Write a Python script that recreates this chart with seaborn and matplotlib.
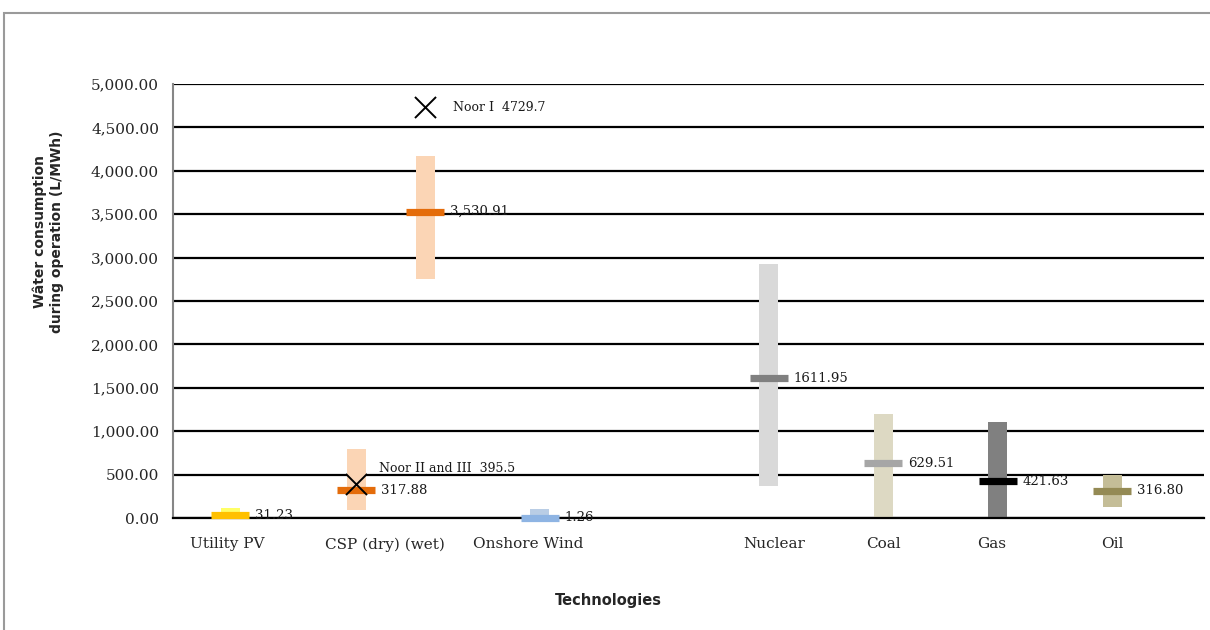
import matplotlib
matplotlib.use("Agg")
import matplotlib.pyplot as plt
import matplotlib.patches as mpatches
import seaborn as sns
import pandas as pd

# Data
technologies = ["Utility PV", "CSP (dry)", "CSP (wet)", "Onshore Wind",
                "Nuclear", "Coal", "Gas", "Oil"]
range_low = [0, 89, 2750, 0, 372, 0, 0, 123]
range_high = [119, 791, 4171, 104, 2931, 1198, 1106, 495]
median = [31.23, 317.88, 3530.91, 1.26, 1611.95, 629.51, 421.63, 316.80]
median_labels = ["31.23", "317.88", "3,530.91", "1.26", "1611.95", "629.51", "421.63", "316.80"]
tick_labels = ["Utility PV", "CSP (dry) (wet)", "Onshore Wind", "Nuclear", "Coal", "Gas", "Oil"]

noor_names = ["Noor I", "Noor II and III"]
noor_tech = ["CSP (wet)", "CSP (dry)"]
noor_values = [4729.7, 395.5]

range_colors = ["#FFFF66", "#FBD5B5", "#FBD5B5", "#B9CDE5", "#D9D9D9", "#DDD9C3", "#808080", "#C4BD97"]
median_colors = ["#FFC000", "#E46C0A", "#E46C0A", "#8EB4E3", "#808080", "#A6A6A6", "#000000", "#948A54"]

# layout: x slot of each column and of each tick label
x_pos = [0.5, 1.6, 2.2, 3.2, 5.2, 6.2, 7.2, 8.2]
tick_pos = [0.47, 1.85, 3.1, 5.25, 6.2, 7.15, 8.2]

df = pd.DataFrame({"tech": technologies, "x": x_pos, "low": range_low,
                   "high": range_high, "median": median})
noor = pd.DataFrame({"name": noor_names, "value": noor_values,
                     "x": [x_pos[technologies.index(t)] for t in noor_tech]})

sns.set_theme(style="white")
serif = ["DejaVu Serif"]

fig = plt.figure(figsize=(12.1, 6.3), dpi=100)
ax = fig.add_axes([173 / 1210, 112 / 630, 1031 / 1210, 434 / 630])

# gridlines
ax.set_ylim(0, 5000)
ax.set_xlim(0, 9)
ax.set_yticks(range(0, 5001, 500))
ax.yaxis.grid(True, color="black", linewidth=1.6)
ax.set_axisbelow(True)
for side in ["top", "right"]:
    ax.spines[side].set_visible(False)
ax.spines["left"].set_color("#868686")
ax.spines["left"].set_linewidth(1.5)
ax.spines["bottom"].set_color("black")
ax.spines["bottom"].set_linewidth(1.6)

# range bars
ax.bar(df["x"], df["high"] - df["low"], bottom=df["low"], width=0.166,
       color=range_colors, edgecolor="none", linewidth=0, zorder=2)
# median markers
for i, row in df.iterrows():
    ax.hlines(row["median"], row["x"] - 0.166, row["x"] + 0.166,
              color=median_colors[i], linewidth=5.2, zorder=3, clip_on=False)
    ax.annotate(median_labels[i], (row["x"] + 0.166, row["median"]),
                xytext=(4, 0), textcoords="offset points", va="center", ha="left",
                fontsize=9.5, family=serif, color="#1a1a1a", zorder=4)

# Noor plants
sns.scatterplot(data=noor, x="x", y="value", marker="x", s=230, color="black",
                linewidth=1.4, ax=ax, zorder=5, legend=False)
ax.annotate("Noor I  4729.7", (noor["x"][0], noor_values[0]), xytext=(20, 0),
            textcoords="offset points", va="center", ha="left",
            fontsize=9, family=serif, color="#1a1a1a")
ax.annotate("Noor II and III  395.5", (noor["x"][1], noor_values[1]), xytext=(16, 11),
            textcoords="offset points", va="center", ha="left",
            fontsize=9, family=serif, color="#1a1a1a")

ax.set_xticks(tick_pos)
ax.set_xticklabels(tick_labels, family=serif, fontsize=11)
ax.set_yticks(range(0, 5001, 500))
ax.set_yticklabels([f"{v:,.2f}" for v in range(0, 5001, 500)], family=serif, fontsize=11)
ax.tick_params(axis="both", length=0, pad=10)
ax.tick_params(axis="x", pad=14)
ax.set_xlabel("")
ax.set_ylabel("")

fig.text(48 / 1210, 1 - 232 / 630, "Wâter consumption\nduring operation (L/MWh)",
         rotation=90, ha="center", va="center", fontsize=10, fontweight="bold",
         family=["DejaVu Sans"], linespacing=1.25)
fig.text(608 / 1210, 1 - 600 / 630, "Technologies", ha="center", va="center",
         fontsize=10.5, fontweight="bold", family=["DejaVu Sans"])

# outer chart border (runs off the right and bottom edges)
fig.patches.append(mpatches.Rectangle((4 / 1210, -0.1), 1.2, 1.1 - 13 / 630,
                                      transform=fig.transFigure, fill=False,
                                      edgecolor="#9a9a9a", linewidth=1.5))

fig.savefig("out.png", dpi=100, facecolor="white")
